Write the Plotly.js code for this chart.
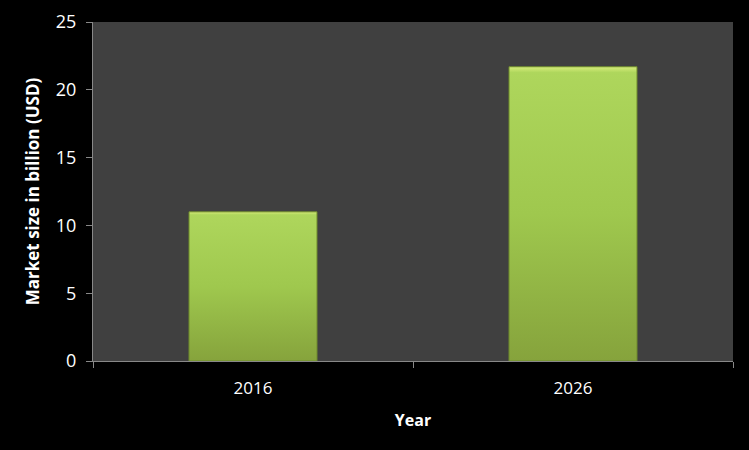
<!DOCTYPE html>
<html>
<head>
<meta charset="utf-8">
<script src="https://cdn.plot.ly/plotly-3.0.1.min.js"></script>
<style>html,body{margin:0;padding:0;background:#000;}#chart{width:749px;height:450px;}</style>
</head>
<body>
<div id="chart"></div>
<script>
var years = ["2016", "2026"];
var marketSize = [11.0, 21.7];
var yTicks = [0, 5, 10, 15, 20, 25];

var font = "Open Sans, Liberation Sans, DejaVu Sans, sans-serif";
var trace = {
  type: "bar",
  x: years,
  y: marketSize,
  width: 0.4,
  marker: {color: "#9cc24c", line: {color: "#6e8a2c", width: 1}},
  hoverinfo: "none"
};
var layout = {
  width: 749, height: 450,
  paper_bgcolor: "#000000",
  plot_bgcolor: "#404040",
  margin: {l: 93, r: 16, t: 22, b: 89},
  showlegend: false,
  xaxis: {
    type: "category",
    showline: true, linecolor: "#888888", linewidth: 1,
    ticks: "outside", tickson: "boundaries", ticklen: 6, tickcolor: "#888888",
    ticklabelstandoff: 12,
    tickfont: {family: font, size: 17, color: "#ffffff"},
    title: {text: "<b>Year</b>", font: {family: font, size: 16, color: "#ffffff"}, standoff: 16},
    showgrid: false, zeroline: false, fixedrange: true
  },
  yaxis: {
    range: [0, 25],
    tickvals: yTicks,
    showline: true, linecolor: "#888888", linewidth: 1,
    ticks: "outside", ticklen: 6, tickcolor: "#888888",
    ticklabelstandoff: 6,
    tickfont: {family: font, size: 18, color: "#ffffff"},
    title: {text: "<b>Market size in billion (USD)</b>", font: {family: font, size: 17, color: "#ffffff"}, standoff: 11},
    showgrid: false, zeroline: false, fixedrange: true
  }
};
Plotly.newPlot("chart", [trace], layout, {displayModeBar: false, staticPlot: true}).then(function(gd){
  var svg = gd.querySelector("svg.main-svg");
  var ns = "http://www.w3.org/2000/svg";
  var defs = svg.querySelector("defs") || svg.insertBefore(document.createElementNS(ns, "defs"), svg.firstChild);
  var g = document.createElementNS(ns, "linearGradient");
  g.setAttribute("id", "barGrad");
  g.setAttribute("x1", "0"); g.setAttribute("y1", "0");
  g.setAttribute("x2", "0"); g.setAttribute("y2", "1");
  [["0", "#d8ee7c"], ["0.02", "#aed65c"], ["0.5", "#9fc84e"], ["1", "#86a33c"]].forEach(function(s){
    var st = document.createElementNS(ns, "stop");
    st.setAttribute("offset", s[0]); st.setAttribute("stop-color", s[1]);
    g.appendChild(st);
  });
  defs.appendChild(g);
  gd.querySelectorAll(".bars .point path").forEach(function(p){
    p.style.fill = "url(#barGrad)";
  });
});
</script>
</body>
</html>
